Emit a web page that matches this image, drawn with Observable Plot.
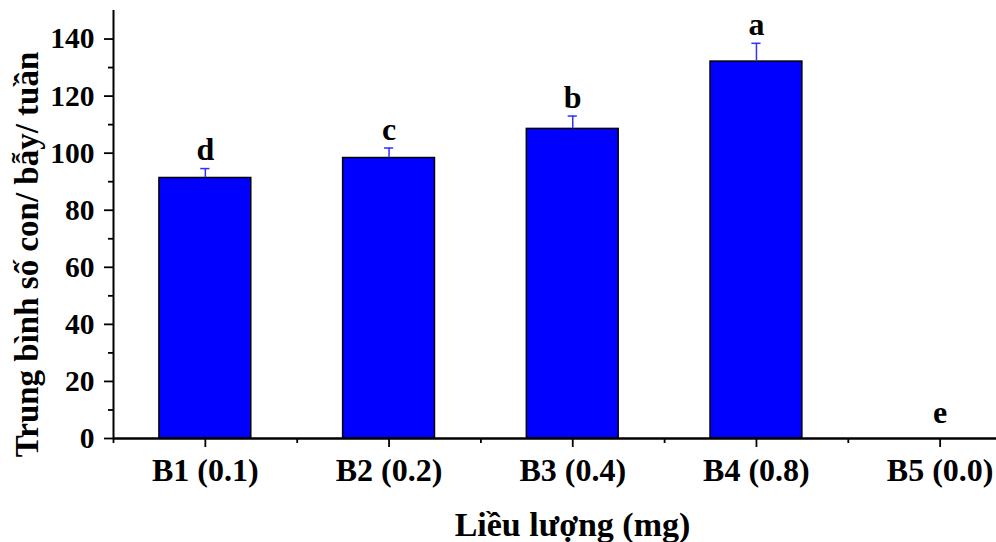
<!DOCTYPE html>
<html>
<head>
<meta charset="utf-8">
<script src="https://cdn.jsdelivr.net/npm/d3@7"></script>
<script src="https://cdn.jsdelivr.net/npm/@observablehq/plot@0.6"></script>
<style>
  html, body { margin: 0; padding: 0; background: #fff; overflow: hidden; }
  #chart svg { overflow: hidden; }
</style>
</head>
<body>
<div id="chart"></div>
<script>
// Dose groups (mg) and mean offspring per trap per week, with standard error
const groups = ["B1 (0.1)", "B2 (0.2)", "B3 (0.4)", "B4 (0.8)", "B5 (0.0)"];
const means = [91.3, 98.3, 108.5, 132.1, 0];
const errors = [3.3, 3.5, 4.5, 6.4, 0];
const letters = ["d", "c", "b", "a", "e"];
const yMajorTicks = [0, 20, 40, 60, 80, 100, 120, 140];
const yMinorTicks = [10, 30, 50, 70, 90, 110, 130];

const rows = groups.map((g, i) => ({
  pos: i + 1,
  group: g,
  mean: means[i],
  se: errors[i],
  letter: letters[i]
}));

const xMajor = rows.map(d => d.pos);
const xMinor = rows.map(d => d.pos - 0.5);

const font = "'Liberation Serif', 'Times New Roman', serif";
const blue = "#0000ff";
const errBlue = "#3030ff";

const chart = Plot.plot({
  width: 996,
  height: 542,
  marginLeft: 113,
  marginRight: 0,
  marginTop: 10,
  marginBottom: 104,
  style: { fontFamily: font, fontWeight: "bold", fontSize: "32px", color: "#000", background: "#fff" },
  x: { type: "linear", domain: [0.5, 5.5], range: [113, 1031.5] },
  y: { domain: [0, 150] },
  marks: [
    // bars
    Plot.rectY(rows, {
      x1: d => d.pos - 0.25,
      x2: d => d.pos + 0.25,
      y1: 0,
      y2: "mean",
      fill: blue,
      stroke: "#000",
      strokeWidth: 1.5
    }),
    // upper error bars with caps
    Plot.ruleX(rows.filter(d => d.se > 0), {
      x: "pos", y1: "mean", y2: d => d.mean + d.se,
      stroke: errBlue, strokeWidth: 1.5
    }),
    Plot.ruleY(rows.filter(d => d.se > 0), {
      y: d => d.mean + d.se,
      x1: d => d.pos - 0.025, x2: d => d.pos + 0.025,
      stroke: errBlue, strokeWidth: 1.5
    }),
    // significance letters
    Plot.text(rows.filter(d => d.se > 0), {
      x: "pos", y: d => d.mean + d.se, text: "letter",
      lineAnchor: "bottom", dy: -8.5,
      fontSize: 32, fontWeight: "bold", fill: "#000"
    }),
    Plot.text(rows.filter(d => d.se === 0), {
      x: "pos", y: d => d.mean, text: "letter",
      lineAnchor: "bottom", dy: -16,
      fontSize: 32, fontWeight: "bold", fill: "#000"
    }),
    // axes lines
    Plot.ruleX([0.5], { stroke: "#000", strokeWidth: 2 }),
    Plot.ruleY([0], { stroke: "#000", strokeWidth: 2.5 }),
    // y axis ticks
    Plot.axisY(yMajorTicks, {
      tickSize: 9, tickPadding: 10, strokeWidth: 1.8,
      fontSize: 29.5, fontWeight: "bold", label: null
    }),
    Plot.axisY(yMinorTicks, {
      tickSize: 5, strokeWidth: 1.8, text: null, label: null
    }),
    // x axis ticks
    Plot.axisX(xMajor, {
      tickSize: 9, tickPadding: 11, strokeWidth: 1.8,
      tickFormat: p => groups[p - 1],
      fontSize: 32, fontWeight: "bold", label: null
    }),
    Plot.axisX(xMinor, {
      tickSize: 5, strokeWidth: 1.8, text: null, label: null
    }),
    // axis titles
    Plot.text(["Trung bình số con/ bẫy/ tuần"], {
      frameAnchor: "left", textAnchor: "middle", lineAnchor: "middle",
      rotate: -90, dx: -86, dy: 30,
      fontSize: 33, fontWeight: "bold", fill: "#000"
    }),
    Plot.text(["Liều lượng (mg)"], {
      frameAnchor: "bottom", textAnchor: "middle", dx: 17.5, dy: 73, lineAnchor: "top",
      fontSize: 34, fontWeight: "bold", fill: "#000"
    })
  ]
});

document.getElementById("chart").appendChild(chart);
</script>
</body>
</html>
